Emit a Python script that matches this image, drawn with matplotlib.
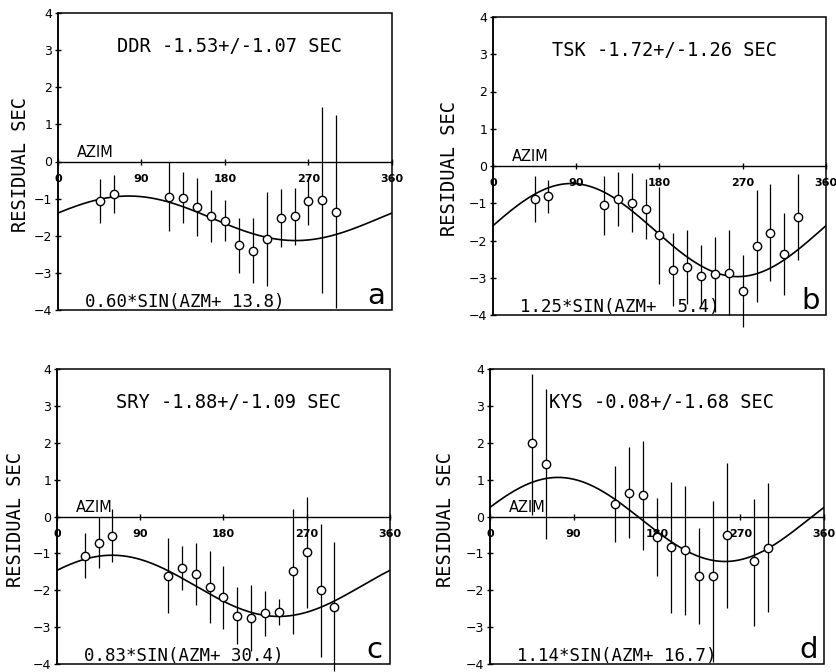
import numpy as np
import matplotlib
matplotlib.use("Agg")
import matplotlib.pyplot as plt
from matplotlib.patches import Rectangle

# ---------------------------------------------------------------------------
# Travel-time residuals against back-azimuth, four stations
# ---------------------------------------------------------------------------
stations = ["DDR", "TSK", "SRY", "KYS"]
panel_tags = ["a", "b", "c", "d"]

mean_res = [-1.53, -1.72, -1.88, -0.08]
std_res = [1.07, 1.26, 1.09, 1.68]
fit_amp = [0.60, 1.25, 0.83, 1.14]
fit_phase = [13.8, 5.4, 30.4, 16.7]

az_ddr = [45, 60, 120, 135, 150, 165, 180, 195, 210, 225, 240, 255, 270, 285, 300]
res_ddr = [-1.07, -0.88, -0.95, -0.97, -1.23, -1.48, -1.59, -2.26, -2.40, -2.09,
           -1.53, -1.48, -1.07, -1.04, -1.35]
err_ddr = [0.60, 0.52, 0.93, 0.69, 0.78, 0.70, 0.55, 0.75, 0.88, 1.27,
           0.78, 0.76, 0.65, 2.50, 2.60]

az_tsk = [45, 60, 120, 135, 150, 165, 180, 195, 210, 225, 240, 255, 270, 285,
          300, 315, 330]
res_tsk = [-0.89, -0.81, -1.06, -0.89, -0.98, -1.16, -1.86, -2.78, -2.71, -2.95,
           -2.91, -2.86, -3.36, -2.15, -1.79, -2.37, -1.37]
err_tsk = [0.62, 0.44, 0.78, 0.72, 0.80, 0.81, 1.30, 0.97, 1.00, 0.82,
           1.00, 1.14, 0.96, 1.50, 1.30, 1.10, 1.16]

az_sry = [30, 45, 60, 120, 135, 150, 165, 180, 195, 210, 225, 240, 255, 270, 285, 300]
res_sry = [-1.06, -0.71, -0.52, -1.60, -1.40, -1.56, -1.91, -2.19, -2.69, -2.75,
           -2.62, -2.59, -1.49, -0.97, -2.00, -2.45]
err_sry = [0.60, 0.69, 0.71, 1.01, 0.59, 0.84, 0.97, 0.86, 0.78, 0.90,
           0.61, 0.35, 1.70, 1.50, 1.80, 1.75]

az_kys = [45, 60, 135, 150, 165, 180, 195, 210, 225, 240, 255, 285, 300]
res_kys = [2.00, 1.43, 0.33, 0.64, 0.57, -0.55, -0.83, -0.91, -1.60, -1.62,
           -0.50, -1.20, -0.85]
err_up_kys = [1.86, 2.04, 1.03, 1.24, 1.49, 1.05, 1.77, 1.73, 1.28, 2.04,
              1.95, 1.68, 1.75]
err_dn_kys = [1.96, 2.04, 1.01, 1.22, 1.47, 1.05, 1.78, 1.75, 1.31, 2.32,
              1.98, 1.76, 1.75]

azimuths = [az_ddr, az_tsk, az_sry, az_kys]
residuals = [res_ddr, res_tsk, res_sry, res_kys]
errors_up = [err_ddr, err_tsk, err_sry, err_up_kys]
errors_dn = [err_ddr, err_tsk, err_sry, err_dn_kys]

xticks = [0, 90, 180, 270, 360]
xtick_labels = ["0", "90", "180", "270", "360"]
yticks = [-4, -3, -2, -1, 0, 1, 2, 3, 4]
ytick_labels = ["\u22124", "\u22123", "\u22122", "\u22121", "0", "1", "2", "3", "4"]

# ---------------------------------------------------------------------------
# Layout (pixel boxes: left, top, right, bottom)
# ---------------------------------------------------------------------------
W, H = 837, 672
boxes_px = [(58, 13, 392, 310), (493, 17, 826, 315),
            (57, 369, 390, 664), (490, 369, 824, 664)]
ylabel_x = [-0.084, -0.102, -0.096, -0.105]

MONO = "DejaVu Sans Mono"
SANS = "DejaVu Sans"

fig = plt.figure(figsize=(W / 100, H / 100), dpi=100)
fig.patch.set_facecolor("white")

az_curve = np.linspace(0, 360, 721)

for i in range(4):
    l, t, r, b = boxes_px[i]
    ax = fig.add_axes([l / W, 1 - b / H, (r - l) / W, (b - t) / H])
    ax.set_xlim(0, 360)
    ax.set_ylim(-4, 4)
    ax.set_facecolor("white")

    # frame box; the bottom spine becomes the zero (azimuth) line
    for s in ("top", "right"):
        ax.spines[s].set_visible(False)
    ax.spines["left"].set_linewidth(1.1)
    ax.spines["bottom"].set_position(("data", 0))
    ax.spines["bottom"].set_linewidth(1.0)
    ax.add_patch(Rectangle((0, 0), 1, 1, transform=ax.transAxes, fill=False,
                           lw=1.1, ec="black", clip_on=False, zorder=5))

    ax.set_xticks(xticks)
    ax.set_xticklabels(xtick_labels, fontfamily=SANS, fontweight="bold",
                       fontsize=8)
    ax.set_yticks(yticks)
    ax.set_yticklabels(ytick_labels, fontfamily=SANS, fontsize=9)
    ax.tick_params(axis="x", direction="inout", length=4.5, width=1.0, pad=6.5)
    ax.tick_params(axis="y", direction="inout", length=4.5, width=1.0, pad=2)

    ax.set_ylabel("RESIDUAL SEC", fontfamily=MONO, fontsize=13.5)
    ax.yaxis.set_label_coords(ylabel_x[i], 0.49)

    # fitted sinusoid
    curve = mean_res[i] + fit_amp[i] * np.sin(np.deg2rad(az_curve + fit_phase[i]))
    ax.plot(az_curve, curve, color="black", lw=1.2, zorder=2)

    # station residuals with error bars
    cont = ax.errorbar(azimuths[i], residuals[i],
                       yerr=[errors_dn[i], errors_up[i]],
                       fmt="o", ms=6, mfc="white", mec="black", mew=1.0,
                       ecolor="black", elinewidth=0.9, capsize=0, zorder=3)
    for art in cont.lines[2]:
        art.set_clip_on(False)
    cont.lines[0].set_clip_on(False)

    title = f"{stations[i]} {mean_res[i]:.2f}+/-{std_res[i]:.2f} SEC"
    ax.text(185, 3.1, title, ha="center", va="center",
            fontfamily=MONO, fontsize=13.5, zorder=4)

    formula = f"{fit_amp[i]:.2f}*SIN(AZM+{fit_phase[i]:5.1f})"
    ax.text(137, -3.78, formula, ha="center", va="center",
            fontfamily=MONO, fontsize=12.5, zorder=4)

    ax.text(40, 0.25, "AZIM", ha="center", va="center",
            fontfamily=SANS, fontsize=10.5, zorder=4)

    ax.text(343, -3.85, panel_tags[i], ha="center", va="baseline",
            fontfamily=SANS, fontsize=21, zorder=4)

fig.savefig("out.png", dpi=100, facecolor="white")
